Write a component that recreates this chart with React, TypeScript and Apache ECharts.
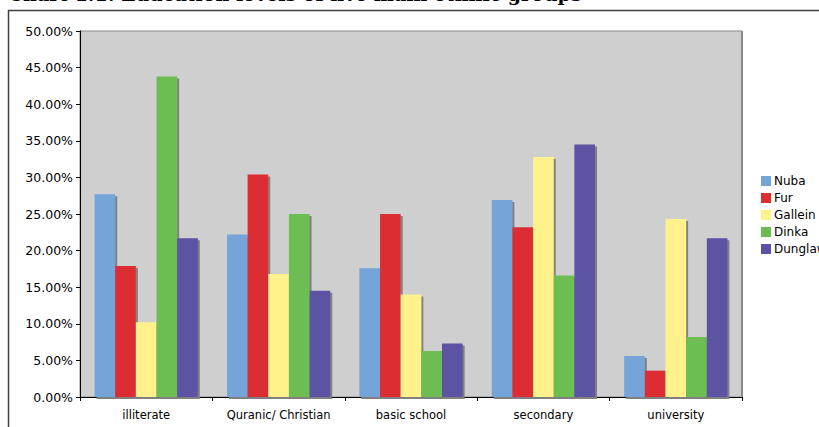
import React, { useEffect, useRef } from "react";
import * as echarts from "echarts";

const categories = ["illiterate", "Quranic/ Christian", "basic school", "secondary", "university"];
const groups = ["Nuba", "Fur", "Gallein", "Dinka", "Dunglaw"];
const nuba = [27.7, 22.2, 17.6, 26.9, 5.6];
const fur = [17.9, 30.4, 25.0, 23.2, 3.6];
const gallein = [10.2, 16.8, 14.0, 32.8, 24.3];
const dinka = [43.8, 25.0, 6.3, 16.6, 8.2];
const dunglaw = [21.7, 14.5, 7.3, 34.5, 21.7];
const colors = ["#75A5D8", "#DC2E30", "#FFF28C", "#6CBE52", "#5B52A3"];
const titleText = "Chart 1.1: Education levels of five main ethnic groups";

export default function App() {
  const ref = useRef<HTMLDivElement>(null);
  useEffect(() => {
    if (!ref.current) return;
    const chart = echarts.init(ref.current, null, { renderer: "svg" });
    const values = [nuba, fur, gallein, dinka, dunglaw];
    const font = "DejaVu Sans";
    chart.setOption({
      animation: false,
      backgroundColor: "#ffffff",
      graphic: [
        {
          type: "text",
          left: 8,
          top: -16,
          style: { text: titleText, fill: "#000", font: "bold 19px 'DejaVu Serif'" },
        },
        {
          type: "line",
          shape: { x1: 8, y1: 10.5, x2: 819, y2: 10.5 },
          style: { stroke: "#404040", lineWidth: 1.5 },
        },
        {
          type: "line",
          shape: { x1: 8.5, y1: 10, x2: 8.5, y2: 427 },
          style: { stroke: "#404040", lineWidth: 1.5 },
        },
        {
          type: "line",
          shape: { x1: 742, y1: 31, x2: 742, y2: 397 },
          style: { stroke: "#8a8a8a", lineWidth: 2 },
        },
      ],
      legend: {
        orient: "vertical",
        left: 756,
        top: 170,
        itemWidth: 10,
        itemHeight: 10,
        itemGap: 5,
        icon: "rect",
        data: groups,
        textStyle: { fontFamily: font, fontSize: 12, color: "#000", padding: [0, 0, 0, -2] },
      },
      grid: { left: 80, right: 77, top: 31, bottom: 30, containLabel: false, show: true, backgroundColor: "#CFCFCF", borderColor: "#8a8a8a", borderWidth: 1 },
      xAxis: {
        type: "category",
        data: categories,
        axisLine: { lineStyle: { color: "#000", width: 1 } },
        axisTick: { show: true, length: 4, lineStyle: { color: "#000" } },
        axisLabel: { fontFamily: font, fontSize: 11.5, color: "#000", margin: 12, interval: 0 },
      },
      yAxis: {
        type: "value",
        min: 0,
        max: 50,
        interval: 5,
        axisLine: { show: true, lineStyle: { color: "#000", width: 1 } },
        axisTick: { show: true, length: 4, lineStyle: { color: "#000" } },
        axisLabel: {
          fontFamily: font,
          fontSize: 12.5,
          color: "#000",
          margin: 7,
          formatter: (v: number) => v.toFixed(2) + "%",
        },
        splitLine: {
          lineStyle: { color: "#2b2b2b", width: 1, shadowColor: "#707070", shadowOffsetY: 1, shadowBlur: 0 },
        },
      },
      series: groups.map((g, i) => ({
        name: g,
        type: "bar",
        data: values[i],
        barGap: "0%",
        barCategoryGap: "22%",
        itemStyle: {
          color: colors[i],
          shadowColor: "#808080",
          shadowOffsetX: 2,
          shadowOffsetY: 2,
          shadowBlur: 0,
        },
      })),
    });
    return () => chart.dispose();
  }, []);
  return (
    <div
      ref={ref}
      style={{ position: "fixed", left: 0, top: 0, width: 819, height: 427 }}
    />
  );
}
